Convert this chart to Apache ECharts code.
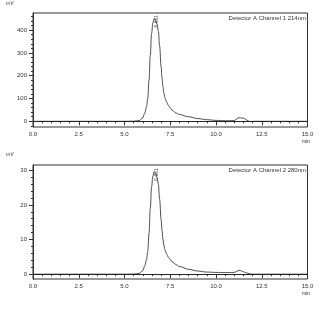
<!DOCTYPE html>
<html><head><meta charset="utf-8">
<script src="https://cdn.jsdelivr.net/npm/echarts@6/dist/echarts.min.js"></script>
<style>html,body{margin:0;padding:0;background:#fff}#c{width:336px;height:316px}</style>
</head><body><div id="c"></div>
<script>
const time = [0,5.0,5.5,5.8,6.0,6.1,6.2,6.27,6.34,6.41,6.48,6.55,6.62,6.7,6.78,6.85,6.92,7.0,7.05,7.1,7.15,7.2,7.25,7.3,7.4,7.5,7.6,7.8,8.0,8.5,9.0,9.5,10.0,10.5,11.0,11.1,11.2,11.3,11.4,11.5,11.6,11.7,11.8,11.9,12.0,12.5,15.0];
const ch1 = [0,0,0.5,3,15,35,62,100,180,290,385,432,450,445,425,395,330,240,190,152,125,106,93,84,70,58,49,37,30,20,12,7,4,2.5,3,8,15,16,14,14,10,4,0,-1,0,0,0];
const ch2 = [0,0,0.03,0.2,1.0,2.3,4.1,6.6,11.8,19.0,25.2,28.3,29.5,29.2,27.9,26.0,21.6,15.8,12.6,10.1,8.4,7.2,6.4,5.8,4.9,4.2,3.6,2.8,2.2,1.4,0.9,0.6,0.5,0.45,0.5,0.7,1.0,1.1,0.9,0.7,0.5,0.3,0.15,0.05,0,0,0];
const peak1 = {t: 6.62, v: 450, label: '6.661'};
const peak2 = {t: 6.62, v: 29.5, label: '6.661'};
const yTicks1 = [0,100,200,300,400];
const yTicks2 = [0,10,20,30];
const channel1 = 'Detector A Channel 1 214nm';
const channel2 = 'Detector A Channel 2 280nm';

const FONT = 'Liberation Sans';
const TXT = '#333';
function range(a,b,s){const r=[];for(let v=a;v<=b+1e-9;v+=s)r.push(+v.toFixed(6));return r;}

const grids = [
  {left:33, right:28.5, top:13, height:114, show:true, borderColor:'#333', borderWidth:1},
  {left:33, right:28.5, top:165, height:114, show:true, borderColor:'#333', borderWidth:1}
];
function xAx(g){return {type:'value', gridIndex:g, min:0, max:15, interval:2.5,
  axisLine:{lineStyle:{color:'#333',width:1}}, axisTick:{length:4,inside:false,lineStyle:{color:'#333'}},
  minorTick:{show:true,splitNumber:5,length:2,lineStyle:{color:'#333'}},
  splitLine:{show:false},
  axisLabel:{fontFamily:FONT,fontSize:6,color:TXT,margin:4,formatter:v=>v.toFixed(1)}};}
function yAx(g,min,max,ticks,minor,show){return {type:'value', gridIndex:g, min:min, max:max, position:'left',
  axisLine:{show:true,lineStyle:{color:'#333',width:1}},
  axisTick:{show:true,length:show?4:2,customValues:show?ticks:minor,lineStyle:{color:'#333'}},
  axisLabel:{show:show,fontFamily:FONT,fontSize:6,color:TXT,margin:6,customValues:ticks},
  splitLine:{show:false}};}

const data1 = time.map((t,i)=>[t,ch1[i]]);
const data2 = time.map((t,i)=>[t,ch2[i]]);
function peakSeries(xi,yi,p){return {type:'scatter',xAxisIndex:xi,yAxisIndex:yi,symbol:'circle',symbolSize:1,itemStyle:{color:'rgba(0,0,0,0)'},silent:true,
  data:[[p.t,p.v]],
  label:{show:true,formatter:p.label,rotate:90,position:'top',distance:1,offset:[-4,5],fontFamily:FONT,fontSize:5,color:TXT}};}

const lineBase = {type:'line',showSymbol:false,smooth:0.4,smoothMonotone:'x',lineStyle:{color:'#222',width:0.8}};
const zeroLine = {symbol:'none',silent:true,label:{show:false},lineStyle:{color:'#222',width:0.8,type:'solid'},data:[{yAxis:0}]};

const option = {
  animation:false,
  grid:grids,
  xAxis:[xAx(0),xAx(1)],
  yAxis:[
    yAx(0,-25,475,yTicks1,range(-20,460,20),true),
    yAx(0,-25,475,yTicks1,range(-20,460,20),false),
    yAx(1,-1.4,31.5,yTicks2,range(0,30,2),true),
    yAx(1,-1.4,31.5,yTicks2,range(0,30,2),false)
  ],
  series:[
    Object.assign({},lineBase,{xAxisIndex:0,yAxisIndex:0,data:data1,markLine:zeroLine}),
    Object.assign({},lineBase,{xAxisIndex:1,yAxisIndex:2,data:data2,markLine:zeroLine}),
    peakSeries(0,0,peak1),
    peakSeries(1,2,peak2)
  ],
  graphic:[
    {type:'text',left:6,top:1,style:{text:'mV',font:'italic 5px '+FONT,fill:TXT}},
    {type:'text',left:6,top:152,style:{text:'mV',font:'italic 5px '+FONT,fill:TXT}},
    {type:'text',right:30,top:15,style:{text:channel1,font:'6px '+FONT,fill:TXT}},
    {type:'text',right:30,top:167,style:{text:channel2,font:'6px '+FONT,fill:TXT}},
    {type:'text',left:302,top:139,style:{text:'min',font:'5px '+FONT,fill:TXT}},
    {type:'text',left:302,top:291,style:{text:'min',font:'5px '+FONT,fill:TXT}}
  ]
};
echarts.init(document.getElementById('c'),null,{renderer:'canvas'}).setOption(option);
</script></body></html>
